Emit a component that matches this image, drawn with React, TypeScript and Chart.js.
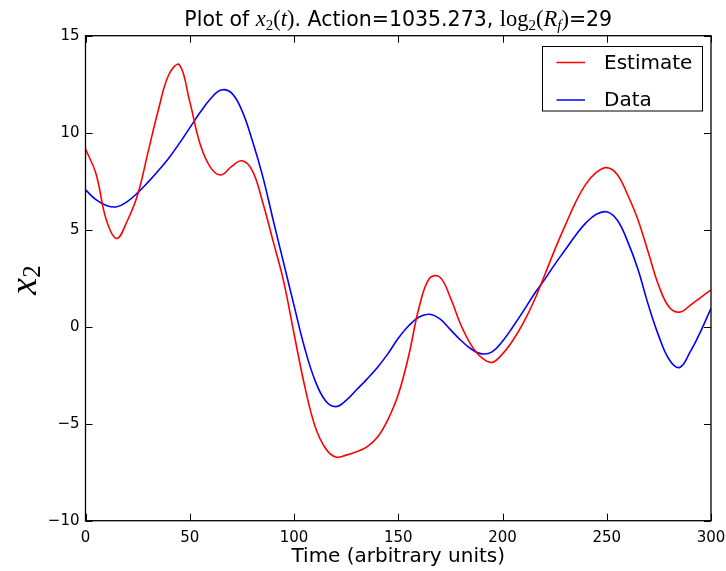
import React, { useEffect, useRef } from "react";
import { Chart, registerables } from "chart.js";

Chart.register(...registerables);

// Sample times (arbitrary units)
const time = [
  0, 5, 10, 15, 20, 25, 30, 35, 40, 45, 50, 55, 60, 65, 70, 75, 80, 85, 90, 95, 100,
  105, 110, 115, 120, 125, 130, 135, 140, 145, 150, 155, 160, 165, 170, 175, 180,
  185, 190, 195, 200, 205, 210, 215, 220, 225, 230, 235, 240, 245, 250, 255, 260,
  265, 270, 275, 280, 285, 290, 295, 300,
];

// Estimated x2 values
const estimate = [
  9.15, 7.9, 5.5, 4.55, 5.45, 6.8, 9.0, 11.2, 13.0, 13.5, 11.6, 9.4, 8.2, 7.82, 8.25,
  8.55, 8.05, 6.4, 4.4, 2.35, -0.35, -3.0, -5.1, -6.25, -6.72, -6.62, -6.45, -6.19,
  -5.7, -4.8, -3.5, -1.5, 1.0, 2.5, 2.55, 1.5, 0.1, -0.95, -1.6, -1.84, -1.4, -0.7,
  0.2, 1.3, 2.6, 3.95, 5.2, 6.4, 7.35, 7.95, 8.2, 7.85, 6.8, 5.5, 3.8, 2.1, 1.0,
  0.75, 1.1, 1.5, 1.9,
];

// Measured x2 values
const data = [
  7.05, 6.55, 6.25, 6.18, 6.45, 6.9, 7.45, 8.05, 8.7, 9.45, 10.25, 11.05, 11.75,
  12.2, 12.05, 11.15, 9.6, 7.75, 5.5, 3.3, 1.1, -1.05, -2.75, -3.8, -4.12, -3.8,
  -3.25, -2.7, -2.1, -1.4, -0.6, 0.05, 0.5, 0.64, 0.4, -0.15, -0.7, -1.15, -1.4,
  -1.3, -0.75, 0.0, 0.8, 1.65, 2.4, 3.2, 3.95, 4.7, 5.35, 5.8, 5.92, 5.5, 4.4, 2.95,
  1.1, -0.5, -1.7, -2.1, -1.3, -0.25, 0.95,
];

const xTicks = [0, 50, 100, 150, 200, 250, 300];
const yTicks = [-10, -5, 0, 5, 10, 15];

const SANS = '"DejaVu Sans", sans-serif';
const SERIF = '"Liberation Serif", "DejaVu Serif", serif';

type Seg = { text: string; font: string; dy?: number };

function drawSegments(ctx: CanvasRenderingContext2D, segs: Seg[], cx: number, baseline: number) {
  let total = 0;
  for (const s of segs) {
    ctx.font = s.font;
    total += ctx.measureText(s.text).width;
  }
  let x = cx - total / 2;
  ctx.textAlign = "left";
  ctx.textBaseline = "alphabetic";
  for (const s of segs) {
    ctx.font = s.font;
    ctx.fillText(s.text, x, baseline + (s.dy || 0));
    x += ctx.measureText(s.text).width;
  }
}

const decorations = {
  id: "decorations",
  afterDraw(chart: any) {
    const ctx: CanvasRenderingContext2D = chart.ctx;
    const { left, right, top, bottom } = chart.chartArea;
    const xs = chart.scales.x;
    const ys = chart.scales.y;
    ctx.save();
    ctx.fillStyle = "#000";
    ctx.strokeStyle = "#000";

    // inward tick marks on all four sides
    ctx.lineWidth = 1;
    const tickLen = 7;
    ctx.beginPath();
    for (const v of xTicks) {
      const px = Math.round(xs.getPixelForValue(v)) + 0.5;
      ctx.moveTo(px, bottom);
      ctx.lineTo(px, bottom - tickLen);
      ctx.moveTo(px, top);
      ctx.lineTo(px, top + tickLen);
    }
    for (const v of yTicks) {
      const py = Math.round(ys.getPixelForValue(v)) + 0.5;
      ctx.moveTo(left, py);
      ctx.lineTo(left + tickLen, py);
      ctx.moveTo(right, py);
      ctx.lineTo(right - tickLen, py);
    }
    ctx.stroke();

    // axes frame
    ctx.lineWidth = 1.3;
    ctx.strokeRect(left, top, right - left, bottom - top);

    // title
    const F = 20.5;
    const sans = `${F}px ${SANS}`;
    const it = `italic ${F + 2}px ${SERIF}`;
    const rm = `${F + 2}px ${SERIF}`;
    const sub = `${Math.round(F * 0.75)}px ${SERIF}`;
    const subIt = `italic ${Math.round(F * 0.75)}px ${SERIF}`;
    drawSegments(
      ctx,
      [
        { text: "Plot of ", font: sans },
        { text: "x", font: it },
        { text: "2", font: sub, dy: 4 },
        { text: "(", font: rm },
        { text: "t", font: it },
        { text: ")", font: rm },
        { text: ". Action=1035.273, ", font: sans },
        { text: "log", font: rm },
        { text: "2", font: sub, dy: 4 },
        { text: "(", font: rm },
        { text: "R", font: it },
        { text: "f", font: subIt, dy: 4 },
        { text: ")", font: rm },
        { text: "=29", font: sans },
      ],
      (left + right) / 2,
      25.5
    );

    // x axis label
    ctx.font = `20px ${SANS}`;
    ctx.textAlign = "center";
    ctx.textBaseline = "alphabetic";
    ctx.fillText("Time (arbitrary units)", (left + right) / 2, 562);

    // y axis label (rotated)
    ctx.save();
    ctx.translate(36, 280);
    ctx.rotate(-Math.PI / 2);
    drawSegments(
      ctx,
      [
        { text: "x", font: `italic 38px ${SERIF}` },
        { text: "2", font: `25px ${SERIF}`, dy: 4 },
      ],
      0,
      0
    );
    ctx.restore();

    // legend
    const bx = 542.5, by = 46.5, bw = 160, bh = 64.5;
    ctx.fillStyle = "#fff";
    ctx.fillRect(bx, by, bw, bh);
    ctx.lineWidth = 1;
    ctx.strokeStyle = "#000";
    ctx.strokeRect(bx, by, bw, bh);
    const items = [
      { label: "Estimate", color: "#ff0000", y: 62.5 },
      { label: "Data", color: "#0000ff", y: 100 },
    ];
    ctx.font = `20px ${SANS}`;
    ctx.textAlign = "left";
    ctx.textBaseline = "middle";
    for (const item of items) {
      ctx.strokeStyle = item.color;
      ctx.lineWidth = 1.5;
      ctx.beginPath();
      ctx.moveTo(556.5, item.y);
      ctx.lineTo(585, item.y);
      ctx.stroke();
      ctx.fillStyle = "#000";
      ctx.fillText(item.label, 604, item.y + 1);
    }
    ctx.restore();
  },
};

function App() {
  const ref = useRef<HTMLCanvasElement | null>(null);

  useEffect(() => {
    const canvas = ref.current;
    if (!canvas) return;
    const minus = (v: number) => (v < 0 ? "\u2212" + Math.abs(v) : String(v));
    const chart = new Chart(canvas, {
      type: "line",
      data: {
        datasets: [
          {
            label: "Estimate",
            data: time.map((t, i) => ({ x: t, y: estimate[i] })),
            borderColor: "#ff0000",
            borderWidth: 1.6,
            pointRadius: 0,
            tension: 0.4,
            fill: false,
          },
          {
            label: "Data",
            data: time.map((t, i) => ({ x: t, y: data[i] })),
            borderColor: "#0000ff",
            borderWidth: 1.6,
            pointRadius: 0,
            tension: 0.4,
            fill: false,
          },
        ],
      },
      options: {
        responsive: false,
        animation: false,
        devicePixelRatio: 1,
        layout: { padding: { top: 35.7, right: 15, left: 0, bottom: 0 } },
        plugins: {
          legend: { display: false },
          title: { display: false },
          tooltip: { enabled: false },
        },
        scales: {
          x: {
            type: "linear",
            min: 0,
            max: 300,
            afterBuildTicks: (s: any) => {
              s.ticks = xTicks.map((v) => ({ value: v }));
            },
            afterFit: (s: any) => {
              s.height = 50.3;
              s.paddingLeft = 0;
              s.paddingRight = 0;
            },
            grid: { display: false, drawTicks: false },
            border: { display: false },
            ticks: {
              padding: 8,
              color: "#000",
              maxRotation: 0,
              autoSkip: false,
              font: { family: SANS, size: 15 },
              callback: (v: any) => minus(Number(v)),
            },
          },
          y: {
            type: "linear",
            min: -10,
            max: 15,
            afterBuildTicks: (s: any) => {
              s.ticks = yTicks.map((v) => ({ value: v }));
            },
            afterFit: (s: any) => {
              s.width = 85.5;
              s.paddingTop = 0;
              s.paddingBottom = 0;
            },
            grid: { display: false, drawTicks: false },
            border: { display: false },
            ticks: {
              padding: 6,
              color: "#000",
              autoSkip: false,
              font: { family: SANS, size: 15 },
              callback: (v: any) => minus(Number(v)),
            },
          },
        },
      },
      plugins: [decorations],
    } as any);
    return () => chart.destroy();
  }, []);

  return (
    <div style={{ position: "absolute", left: 0, top: 0, width: 726, height: 571, background: "#fff" }}>
      <canvas ref={ref} width={726} height={571} style={{ display: "block" }} />
    </div>
  );
}

export default App;
